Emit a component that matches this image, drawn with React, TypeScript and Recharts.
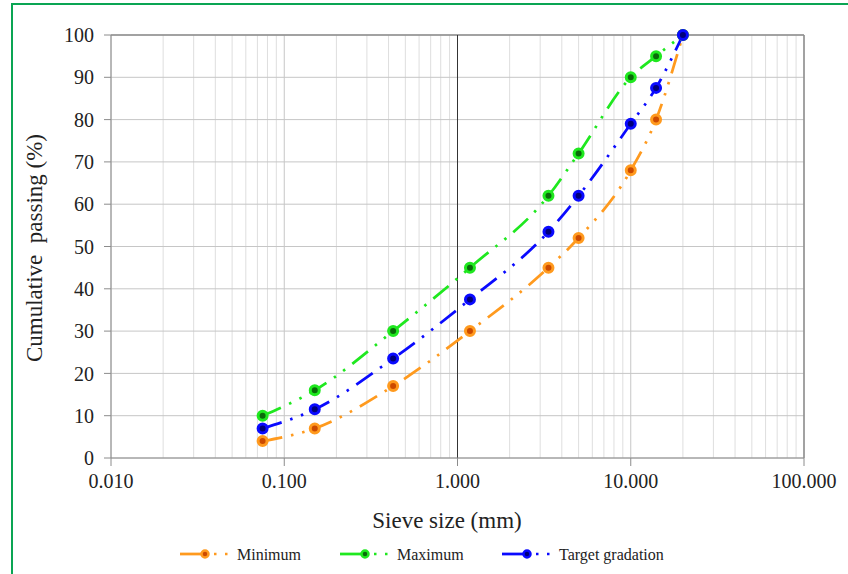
import React from 'react';
import {
  LineChart,
  Line,
  XAxis,
  YAxis,
  CartesianGrid,
  ReferenceLine,
  Label,
} from 'recharts';

// sieve sizes (mm) and cumulative passing (%)
const sieveSizes = [0.075, 0.15, 0.425, 1.18, 3.35, 5, 10, 14, 20];
const minimumPassing = [4, 7, 17, 30, 45, 52, 68, 80, 100];
const maximumPassing = [10, 16, 30, 45, 62, 72, 90, 95, 100];
const targetPassing = [7, 11.5, 23.5, 37.5, 53.5, 62, 79, 87.5, 100];

const xTicks = [0.01, 0.1, 1, 10, 100];
const yTicks = [0, 10, 20, 30, 40, 50, 60, 70, 80, 90, 100];
const minorMultipliers = [2, 3, 4, 5, 6, 7, 8, 9];

const FONT = '"Liberation Serif", "Times New Roman", serif';
const DASH = '20 9 2.5 9 2.5 9';

const series = [
  { key: 'minimum', name: 'Minimum', color: '#ff9a1e', dark: '#cc4a00', legendX: 180 },
  { key: 'maximum', name: 'Maximum', color: '#1fe81f', dark: '#0a6a0a', legendX: 340 },
  { key: 'target', name: 'Target gradation', color: '#0a0aff', dark: '#00007a', legendX: 502 },
];

const data = sieveSizes.map((size, i) => ({
  size,
  minimum: minimumPassing[i],
  maximum: maximumPassing[i],
  target: targetPassing[i],
}));

const minorLines = xTicks
  .slice(0, -1)
  .flatMap((decade) => minorMultipliers.map((m) => +(decade * m).toPrecision(3)));

const makeDot = (color: string, dark: string) => (props: any) => {
  const { cx, cy, index } = props;
  if (cx == null || cy == null) return <g key={index} />;
  return (
    <circle key={index} cx={cx} cy={cy} r={4.5} fill={dark} stroke={color} strokeWidth={3} />
  );
};

function ChartLegend() {
  const y = 554;
  return (
    <svg
      width={848}
      height={574}
      style={{ position: 'absolute', left: 0, top: 0, pointerEvents: 'none' }}
    >
      {series.map((s) => (
        <g key={s.key}>
          <line x1={s.legendX} y1={y} x2={s.legendX + 25} y2={y} stroke={s.color} strokeWidth={2.75} />
          <rect x={s.legendX + 34} y={y - 1.25} width={2.5} height={2.5} fill={s.color} />
          <rect x={s.legendX + 45} y={y - 1.25} width={2.5} height={2.5} fill={s.color} />
          <circle cx={s.legendX + 25} cy={y} r={3.5} fill={s.dark} stroke={s.color} strokeWidth={2.5} />
          <text x={s.legendX + 57} y={560} fontSize={16} fontFamily={FONT} fill="#222">
            {s.name}
          </text>
        </g>
      ))}
    </svg>
  );
}

export default function App() {
  return (
    <div
      style={{
        position: 'absolute',
        left: 0,
        top: 0,
        width: 848,
        height: 574,
        overflow: 'hidden',
        background: '#fff',
      }}
    >
      {/* green frame round the figure */}
      <div
        style={{
          position: 'absolute',
          left: 11,
          top: 3,
          width: 900,
          height: 700,
          border: '2px solid #0aa553',
        }}
      />
      <LineChart
        width={848}
        height={574}
        data={data}
        margin={{ top: 35, right: 44, bottom: 0, left: 0 }}
        style={{ position: 'absolute', left: 0, top: 0 }}
      >
        {/* minor log grid */}
        <CartesianGrid
          horizontal={false}
          verticalValues={minorLines}
          stroke="#dedede"
          strokeWidth={1}
        />
        <CartesianGrid verticalValues={xTicks} horizontalValues={yTicks} stroke="#c6c6c6" strokeWidth={1} />
        <XAxis
          dataKey="size"
          type="number"
          scale="log"
          domain={[0.01, 100]}
          ticks={xTicks}
          interval={0}
          allowDataOverflow
          height={116}
          tickFormatter={(v: number) => v.toFixed(3)}
          tick={{ fontSize: 20, fill: '#222', fontFamily: FONT }}
          tickSize={8}
          tickMargin={8}
          stroke="#8c8c8c"
        >
          <Label
            content={() => (
              <text x={447} y={528} textAnchor="middle" fontSize={23} fontFamily={FONT} fill="#222">
                Sieve size (mm)
              </text>
            )}
          />
        </XAxis>
        <YAxis
          type="number"
          domain={[0, 100]}
          ticks={yTicks}
          interval={0}
          width={111}
          tick={{ fontSize: 20, fill: '#222', fontFamily: FONT }}
          tickSize={7}
          tickMargin={10}
          stroke="#8c8c8c"
        >
          <Label
            content={() => (
              <text
                x={42}
                y={248}
                transform="rotate(-90 42 248)"
                textAnchor="middle"
                fontSize={23}
                fontFamily={FONT}
                fill="#222"
                style={{ whiteSpace: 'pre' }}
              >
                {'Cumulative  passing (%)'}
              </text>
            )}
          />
        </YAxis>
        <ReferenceLine y={100} stroke="#8c8c8c" strokeWidth={1.5} />
        <ReferenceLine x={100} stroke="#8c8c8c" strokeWidth={1.5} />
        <ReferenceLine x={1} stroke="#333" strokeWidth={1} />
        {series.map((s) => (
          <Line
            key={s.key}
            dataKey={s.key}
            name={s.name}
            type="monotone"
            stroke={s.color}
            strokeWidth={2.75}
            strokeDasharray={DASH}
            dot={makeDot(s.color, s.dark)}
            activeDot={false}
            isAnimationActive={false}
          />
        ))}
      </LineChart>
      <ChartLegend />
    </div>
  );
}
